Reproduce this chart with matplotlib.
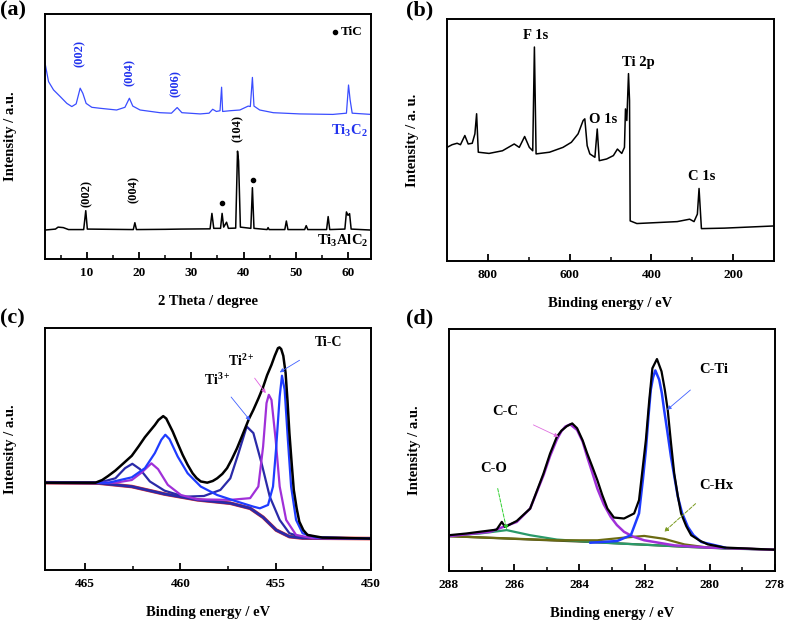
import numpy as np
import matplotlib
matplotlib.use('Agg')
import matplotlib.pyplot as plt

plt.rcParams['font.family'] = ['Liberation Serif', 'DejaVu Serif']
plt.rcParams['font.weight'] = 'bold'
plt.rcParams['mathtext.fontset'] = 'custom'
plt.rcParams['mathtext.rm'] = 'Liberation Serif:bold'
plt.rcParams['mathtext.bf'] = 'Liberation Serif:bold'
plt.rcParams['mathtext.it'] = 'Liberation Serif:bold'

# ---------------- (a) XRD ----------------
xrd_alc_x = [2.0, 4.0, 4.5, 5.5, 6.5, 9.4, 9.8, 10.1, 18.9, 19.2, 19.5, 25.0, 28.0,
             33.6, 33.95, 34.3, 35.6, 35.9, 36.2, 36.75, 37.1, 38.5, 38.85, 39.05, 39.4,
             41.4, 41.7, 42.0, 44.5, 44.7, 44.9, 47.9, 48.2, 48.5, 51.7, 52.0, 52.3,
             55.9, 56.2, 56.5, 59.4, 59.7, 60.0, 60.3, 60.6, 64.4]
xrd_alc_y = [11.8, 12.2, 13.0, 12.8, 12.0, 12.0, 19.7, 12.2, 12.0, 14.8, 12.0, 12.1, 12.2,
             12.3, 18.6, 12.5, 12.5, 18.6, 13.0, 15.0, 12.5, 12.6, 44.0, 40.0, 13.0,
             12.5, 29.1, 12.5, 12.0, 12.8, 12.0, 12.0, 15.5, 12.0, 12.0, 13.6, 12.0,
             12.0, 17.3, 12.0, 12.2, 19.2, 17.8, 18.5, 12.2, 11.8]
xrd_tc_x = [2.0, 2.67, 3.63, 4.9, 6.18, 7.13, 7.96, 8.73, 9.24, 9.87, 10.96, 12.55, 15.7,
            17.3, 18.15, 18.8, 20.2, 24.0, 26.2, 27.3, 28.2, 31.7, 33.4, 34.1, 34.8, 35.5,
            35.8, 36.0, 37.4, 39.3, 40.9, 41.3, 41.7, 42.0, 43.1, 45.7, 50.8, 57.1, 59.7,
            60.1, 60.4, 60.8, 64.4]
xrd_tc_y = [80.0, 72.4, 69.0, 66.3, 63.5, 62.2, 63.3, 69.7, 67.6, 63.5, 61.9, 61.5, 60.8,
            61.9, 65.6, 62.4, 60.8, 59.7, 59.5, 61.8, 59.7, 59.2, 59.5, 61.1, 60.2, 60.5,
            70.1, 60.2, 60.5, 60.8, 62.4, 62.2, 74.1, 62.4, 60.8, 59.7, 59.2, 59.0, 59.5,
            71.0, 65.0, 59.5, 59.0]
tc_hkl = ['(002)', '(004)', '(006)']
tc_hkl_x = [8.7, 18.15, 27.0]
tc_hkl_y = [84.0, 76.0, 71.4]
alc_hkl = ['(002)', '(004)', '(104)']
alc_hkl_x = [9.9, 18.9, 38.85]
alc_hkl_y = [26.8, 28.2, 53.3]
tic_x = [35.9, 41.75]
tic_y = [22.7, 32.2]

# ---------------- (b) XPS survey ----------------
survey_x = [900, 887.7, 875.3, 867.1, 856.4, 848.2, 838.3, 831.8, 827.6, 823.5, 797.2,
            764.3, 735.6, 723.2, 710.1, 698.6, 690.3, 686.2, 682.1, 649.2, 616.3, 595.8,
            579.3, 567.0, 562.9, 557.1, 550.6, 538.2, 532.5, 527.5, 509.5, 493.0, 483.1,
            472.5, 465.9, 463.4, 460.1, 456.0, 453.5, 451.9, 435.5, 386.1, 336.8, 306.4,
            295.7, 287.5, 283.4, 277.6, 221.7, 100]
survey_y = [47.0, 48.1, 48.7, 48.1, 51.9, 48.4, 48.7, 52.6, 60.9, 45.0, 44.5,
            45.6, 48.4, 47.0, 51.5, 47.0, 45.6, 88.5, 44.3, 45.0, 47.0, 49.1,
            52.6, 58.1, 58.8, 47.7, 44.3, 42.9, 54.6, 41.5, 42.2, 43.6, 46.3,
            44.5, 47.0, 62.9, 58.1, 77.5, 66.4, 16.6, 15.5, 15.9, 16.3, 17.3,
            16.3, 19.4, 30.0, 13.4, 13.6, 14.5]
survey_labels = ['F 1s', 'Ti 2p', 'O 1s', 'C 1s']
survey_lab_x = [682, 431, 518, 278]
survey_lab_y = [93.4, 82.3, 58.5, 34.9]

# ---------------- (c) Ti 2p ----------------
ti_env_x = [467.12, 464.45, 464.10, 463.8, 463.41, 463.0, 462.55, 462.2, 461.86, 461.34,
            461.15, 460.9, 460.74, 460.40, 460.15, 459.88, 459.62, 459.36, 459.15, 458.93,
            458.59, 458.3, 458.07, 457.8, 457.55, 457.3, 457.03, 456.8, 456.60, 456.4,
            456.17, 455.9, 455.66, 455.45, 455.22, 455.05, 454.88, 454.80, 454.71, 454.6,
            454.48, 454.38, 454.28, 454.16, 454.05, 453.9, 453.76, 453.55, 453.33, 452.55,
            450.0]
ti_env_y = [36.1, 36.1, 37.2, 38.8, 41.1, 44.0, 47.2, 51.0, 54.9, 59.9,
            62.0, 63.6, 62.6, 57.2, 52.5, 47.6, 43.5, 40.0, 38.0, 36.6,
            36.1, 36.8, 37.9, 39.7, 42.1, 45.8, 50.3, 54.7, 58.6, 62.5,
            66.2, 71.0, 75.6, 80.5, 84.8, 88.5, 91.7, 92.0, 91.3, 88.5,
            81.4, 70.0, 56.6, 44.0, 33.1, 25.5, 20.0, 16.5, 14.5, 13.4,
            13.0]
ti_bg_x = [467.12, 464.28, 462.55, 460.83, 459.10, 457.38, 456.34, 455.66, 454.97, 454.28,
           453.59, 450.0]
ti_bg_y = [36.1, 35.9, 34.5, 31.4, 29.0, 27.6, 25.5, 21.8, 16.5, 13.8, 13.2, 13.0]
tic_c_x = [467.12, 463.76, 462.55, 461.86, 461.34, 461.0, 460.79, 460.57, 460.14, 459.62,
           458.93, 458.07, 457.03, 456.17, 455.83, 455.40, 455.14, 454.97, 454.79, 454.67,
           454.53, 454.36, 454.19, 453.93, 453.59, 452.90, 450.0]
tic_c_y = [36.1, 36.1, 38.3, 42.1, 48.3, 53.8, 55.9, 54.1, 46.9, 40.0,
           34.5, 31.0, 28.3, 26.2, 25.5, 26.9, 34.5, 51.0, 71.7, 80.3,
           74.5, 53.8, 34.5, 20.7, 15.2, 13.5, 13.0]
ti2_x = [467.12, 463.41, 462.55, 462.03, 461.52, 461.17, 460.66, 459.97, 459.10, 457.38,
         456.34, 455.91, 455.66, 455.48, 455.36, 455.22, 455.0, 454.79, 454.45, 453.93,
         453.07, 450.0]
ti2_y = [36.1, 36.1, 37.2, 40.3, 44.1, 41.7, 35.2, 31.0, 29.2, 29.0,
         29.7, 34.5, 51.0, 69.0, 72.4, 70.3, 53.8, 34.5, 20.7, 14.5,
         13.2, 13.0]
ti3_x = [467.12, 464.28, 463.41, 462.90, 462.52, 462.12, 461.60, 460.83, 459.79, 458.76,
         457.90, 457.38, 456.95, 456.52, 456.17, 455.74, 455.31, 454.79, 454.28, 453.59,
         450.0]
ti3_y = [36.1, 36.1, 37.9, 42.1, 43.9, 41.7, 36.6, 32.8, 30.3, 30.6,
         33.1, 37.9, 48.3, 59.3, 56.6, 44.1, 30.3, 20.7, 15.2, 13.5,
         13.0]

# ---------------- (d) C 1s ----------------
c_env_x = [288.0, 287.47, 286.95, 286.54, 286.38, 286.28, 285.92, 285.51, 285.10, 284.9,
           284.69, 284.55, 284.38, 284.22, 284.07, 283.9, 283.76, 283.6, 283.45, 283.3,
           283.14, 282.94, 282.63, 282.32, 282.17, 281.96, 281.86, 281.76, 281.62, 281.48,
           281.38, 281.29, 281.19, 281.09, 280.98, 280.88, 280.72, 280.57, 280.3, 280.06,
           279.54, 278.0]
c_env_y = [14.8, 15.5, 16.4, 17.1, 20.3, 18.2, 20.7, 25.8, 40.3, 48.5,
           55.5, 58.0, 59.9, 61.0, 59.0, 54.0, 48.6, 43.0, 37.6, 31.5,
           25.8, 22.1, 21.7, 23.8, 29.3, 54.1, 70.0, 83.8, 87.6, 82.5,
           75.0, 66.6, 53.0, 40.3, 31.0, 23.8, 18.5, 14.8, 12.5, 11.0,
           9.7, 8.8]
cc_x = [288.0, 286.74, 285.92, 285.51, 285.10, 284.9, 284.69, 284.55, 284.43, 284.28,
        284.07, 283.9, 283.76, 283.6, 283.45, 283.25, 283.04, 282.85, 282.63, 282.35,
        282.01, 281.09, 280.06, 278.0]
cc_y = [14.4, 16.2, 20.3, 25.8, 39.6, 47.5, 54.4, 57.8, 59.7, 60.6,
        58.3, 53.5, 47.2, 40.5, 34.1, 27.5, 22.4, 19.0, 16.2, 14.2,
        12.7, 10.6, 9.7, 8.8]
cti_x = [283.66, 282.84, 282.42, 282.17, 282.05, 281.96, 281.88, 281.81, 281.74, 281.67,
         281.55, 281.47, 281.40, 281.30, 281.19, 281.08, 280.98, 280.85, 280.67, 280.5,
         280.26, 279.54]
cti_y = [11.7, 12.4, 14.8, 23.8, 38.0, 50.0, 64.0, 74.9, 80.0, 82.9,
         79.0, 73.5, 66.6, 57.5, 47.2, 38.5, 30.7, 24.0, 18.2, 14.8,
         12.0, 9.7]
chx_x = [288.0, 284.69, 283.45, 282.63, 282.01, 281.40, 280.78, 280.06, 278.0]
chx_y = [14.4, 12.7, 12.7, 13.8, 14.5, 13.3, 11.0, 9.7, 8.8]
co_x = [288.0, 287.05, 286.23, 285.51, 284.69, 283.14, 281.60, 279.54, 278.0]
co_y = [14.6, 15.5, 16.9, 14.8, 13.0, 11.6, 10.6, 9.3, 8.8]
c_bg_x = [288.0, 283.66, 280.57, 278.0]
c_bg_y = [14.4, 12.0, 9.9, 8.8]


def style(ax, xlim, major, minor, xlabel, ylabel, ypad):
    ax.set_xlim(*xlim)
    ax.set_ylim(0, 100)
    ax.set_xticks(major)
    ax.set_xticks(minor, minor=True)
    ax.set_yticks([])
    ax.tick_params(axis='x', which='major', direction='in', length=5, width=1.3,
                   labelsize=9.5, pad=6, top=False)
    ax.tick_params(axis='x', which='minor', direction='in', length=3, width=1.1, top=False)
    for s in ax.spines.values():
        s.set_linewidth(1.4)
    ax.set_xlabel(xlabel, fontsize=10.5, fontweight='bold', labelpad=11)
    ax.set_ylabel(ylabel, fontsize=10.5, fontweight='bold', labelpad=ypad)


fig = plt.figure(figsize=(7.87, 6.2), dpi=100)
axa = fig.add_axes([0.0572, 0.5823, 0.4142, 0.3952])
axb = fig.add_axes([0.568, 0.579, 0.4155, 0.390])
axc = fig.add_axes([0.0572, 0.0806, 0.4142, 0.3903])
axd = fig.add_axes([0.5705, 0.079, 0.4142, 0.3903])

# (a)
axa.plot(xrd_tc_x, xrd_tc_y, color='#3a4dff', lw=0.9)
axa.plot(xrd_alc_x, xrd_alc_y, color='black', lw=1.1)
for t, x, y in zip(tc_hkl, tc_hkl_x, tc_hkl_y):
    axa.text(x, y, t, rotation=90, ha='center', va='center', color='#2233ee', fontsize=9)
for t, x, y in zip(alc_hkl, alc_hkl_x, alc_hkl_y):
    axa.text(x, y, t, rotation=90, ha='center', va='center', color='black', fontsize=9)
axa.plot(tic_x, tic_y, 'o', color='black', ms=3)
axa.plot([57.6], [92.8], 'o', color='black', ms=3)
axa.text(58.6, 92.8, 'TiC', ha='left', va='center', fontsize=9.5)
axa.text(63.8, 52.4, r'Ti$_3$C$_2$', ha='right', va='center', color='#2233ee', fontsize=10.5)
axa.text(63.8, 7.3, r'Ti$_3$AlC$_2$', ha='right', va='center', color='black', fontsize=10.5)
style(axa, (2, 64.4), [10, 20, 30, 40, 50, 60], [5, 15, 25, 35, 45, 55],
      '2 Theta / degree', 'Intensity / a.u.', 20)

# (b)
axb.plot(survey_x, survey_y, color='black', lw=1.1)
for t, x, y in zip(survey_labels, survey_lab_x, survey_lab_y):
    axb.text(x, y, t, ha='center', va='center', fontsize=10.5)
style(axb, (900, 100), [800, 600, 400, 200], [700, 500, 300],
      'Binding energy / eV', 'Intensity / a. u.', 20)

# (c)
axc.plot(ti_bg_x, ti_bg_y, color='#e03030', lw=2.6)
axc.plot(ti_bg_x, ti_bg_y, color='#2a2aa8', lw=2.0)
axc.plot(ti3_x, ti3_y, color='#2a2aa8', lw=1.6)
axc.plot(ti2_x, ti2_y, color='#a030d8', lw=1.6)
axc.plot(tic_c_x, tic_c_y, color='#1f3cff', lw=1.6)
axc.plot(ti_env_x, ti_env_y, color='black', lw=1.8)
axc.annotate(r'Ti$^{3+}$', xy=(456.34, 61.8), xytext=(458.07, 78.6), ha='center', va='center',
             fontsize=10, arrowprops=dict(arrowstyle='-|>', color='#4060ff', lw=0.6,
                                          mutation_scale=6, shrinkA=6, shrinkB=0))
axc.annotate(r'Ti$^{2+}$', xy=(455.52, 73.1), xytext=(456.78, 86.5), ha='center', va='center',
             fontsize=10, arrowprops=dict(arrowstyle='-|>', color='#e060e0', lw=0.6,
                                          mutation_scale=6, shrinkA=6, shrinkB=0))
axc.annotate('Ti-C', xy=(454.79, 81.7), xytext=(452.2, 94.1), ha='center', va='center',
             fontsize=10, arrowprops=dict(arrowstyle='-|>', color='#4060ff', lw=0.6,
                                          mutation_scale=6, shrinkA=12, shrinkB=0))
style(axc, (467.1, 450), [465, 460, 455, 450], [462.5, 457.5, 452.5],
      'Binding energy / eV', 'Intensity / a.u.', 20)

# (d)
axd.plot(c_bg_x, c_bg_y, color='#4a4a1c', lw=1.6)
axd.plot(co_x, co_y, color='#2a9a6a', lw=1.6)
axd.plot(chx_x, chx_y, color='#6b6b12', lw=1.6)
axd.plot(cc_x, cc_y, color='#a030d8', lw=1.8)
axd.plot(cti_x, cti_y, color='#1f3cff', lw=1.8)
axd.plot(c_env_x, c_env_y, color='black', lw=1.6)
axd.annotate('C-C', xy=(284.64, 55.5), xytext=(286.28, 65.9), ha='center', va='center',
             fontsize=10.5, arrowprops=dict(arrowstyle='-|>', color='#e070e0', lw=0.6,
                                            mutation_scale=6, shrinkA=10, shrinkB=0))
axd.annotate('C-Ti', xy=(281.31, 66.6), xytext=(279.87, 83.1), ha='center', va='center',
             fontsize=10.5, arrowprops=dict(arrowstyle='-|>', color='#4060ff', lw=0.6,
                                            mutation_scale=6, shrinkA=12, shrinkB=0))
axd.annotate('C-O', xy=(286.23, 17.1), xytext=(286.64, 42.4), ha='center', va='center',
             fontsize=10.5, arrowprops=dict(arrowstyle='-|>', color='#30d030', lw=0.7,
                                            ls='--', mutation_scale=6, shrinkA=8, shrinkB=0))
axd.annotate('C-Hx', xy=(281.40, 16.2), xytext=(279.8, 35.5), ha='center', va='center',
             fontsize=10.5, arrowprops=dict(arrowstyle='-|>', color='#7a9a20', lw=0.7,
                                            ls='--', mutation_scale=6, shrinkA=10, shrinkB=0))
style(axd, (288, 278), [288, 286, 284, 282, 280, 278], [287, 285, 283, 281, 279],
      'Binding energy / eV', 'Intensity / a.u.', 20)

for lab, x, y in [('(a)', 0.0, 1.0), ('(b)', 0.516, 1.0), ('(c)', 0.0, 0.502), ('(d)', 0.516, 0.502)]:
    fig.text(x, y, lab, ha='left', va='top', fontsize=16, fontweight='bold')

fig.savefig('out.png', dpi=100)
